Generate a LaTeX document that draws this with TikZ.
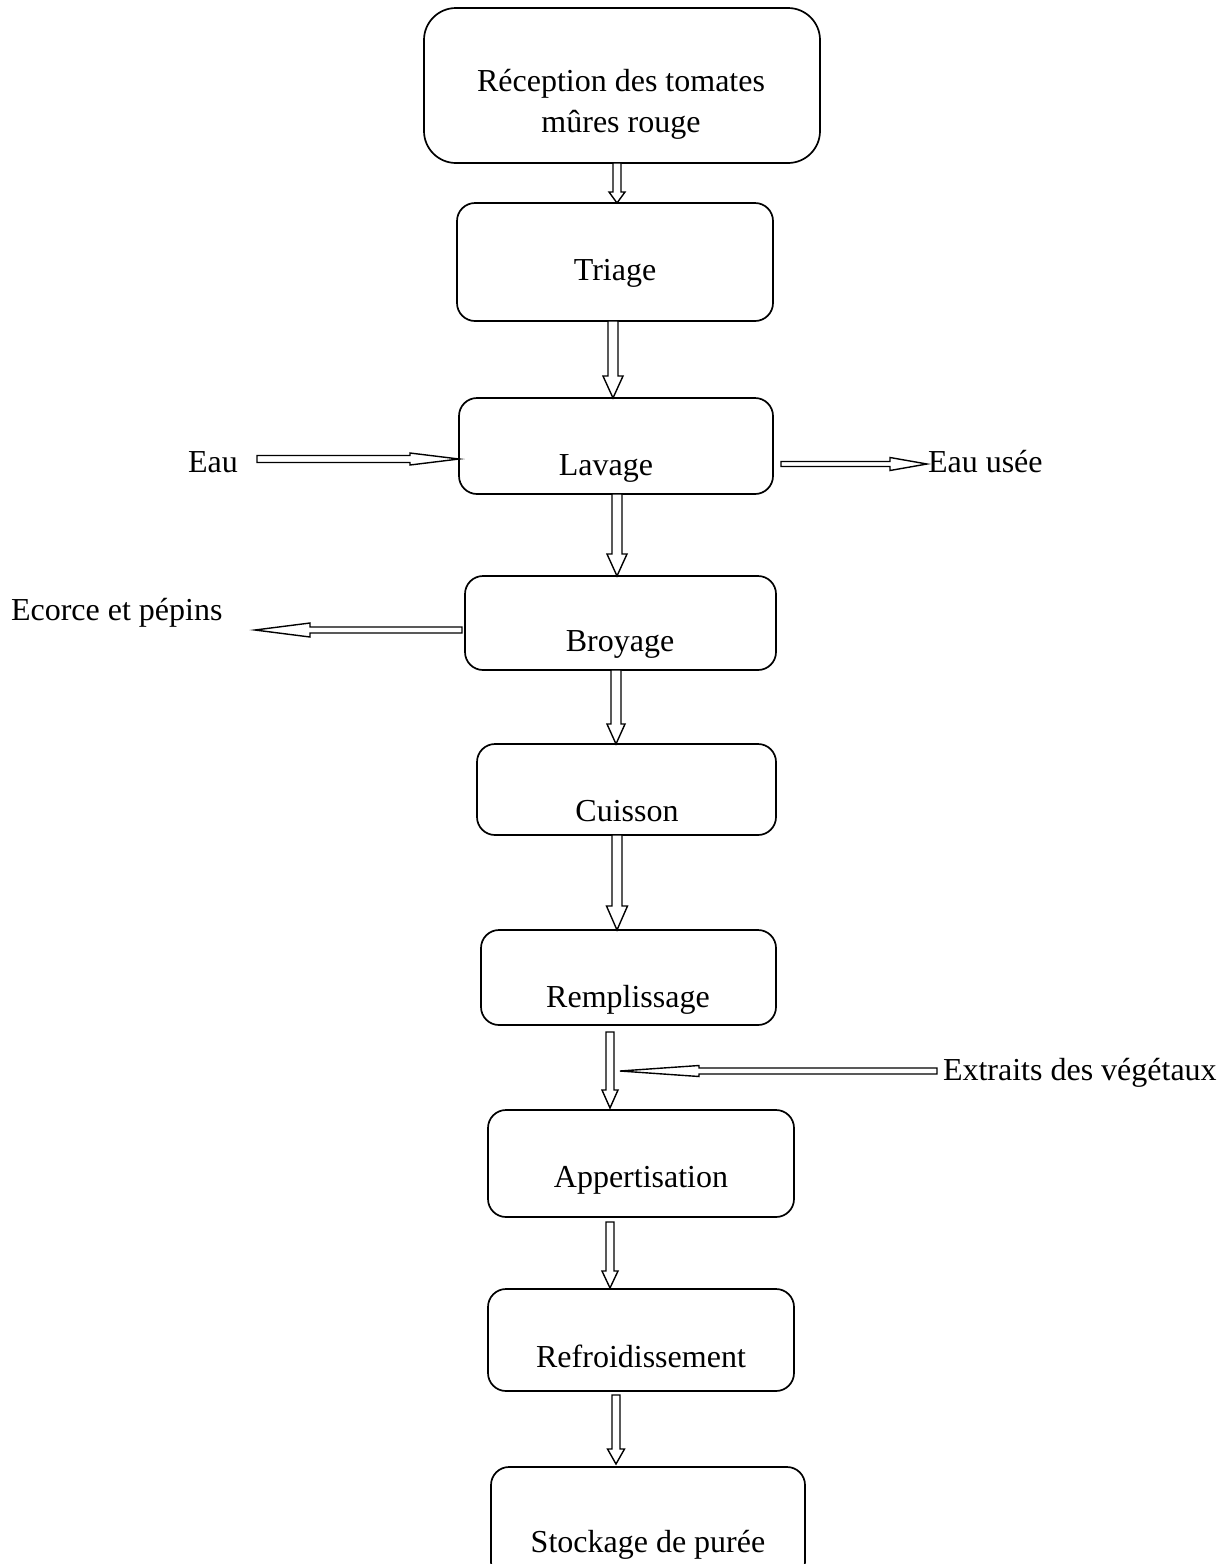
\documentclass[tikz,border=0pt]{standalone}
\usepackage{fontspec}
\setmainfont{Liberation Serif}
\usetikzlibrary{calc}
\tikzset{
  box/.style={draw, line width=1.7pt, rounded corners=18pt, inner sep=0pt, outer sep=0pt, anchor=north west},
  lbl/.style={inner sep=0pt, outer sep=0pt, font=\fontsize{32}{41}\selectfont},
  blk/.style={draw, line width=1.4pt, fill=white, line join=miter},
}
% vertical block arrow pointing down: start, end, shaft half width, head half width, head length
\newcommand\blkdown[5]{\draw[blk] let \p1=#1, \p2=#2 in
  (\x1-#3pt,\y1) -- (\x1+#3pt,\y1) -- (\x1+#3pt,\y2+#5pt) -- (\x1+#4pt,\y2+#5pt) -- (\x1,\y2)
  -- (\x1-#4pt,\y2+#5pt) -- (\x1-#3pt,\y2+#5pt) -- cycle;}
% horizontal block arrow (right or left): start, end, shaft half width, head half width, signed head length
\newcommand\blkh[5]{\draw[blk] let \p1=#1, \p2=#2 in
  (\x1,\y1+#3pt) -- (\x2-#5pt,\y1+#3pt) -- (\x2-#5pt,\y1+#4pt) -- (\x2,\y1) -- (\x2-#5pt,\y1-#4pt)
  -- (\x2-#5pt,\y1-#3pt) -- (\x1,\y1-#3pt) -- cycle;}
\begin{document}
\begin{tikzpicture}[x=1pt,y=-1pt]
\useasboundingbox[fill=white] (0,0) rectangle (1230,1564);

% boxes
\node[box, rounded corners=32pt, minimum width=396pt, minimum height=155pt] (b1) at (424,8) {};
\node[box, minimum width=316pt, minimum height=118pt] (b2) at (457,203) {};
\node[box, minimum width=314pt, minimum height=96pt] (b3) at (459,398) {};
\node[box, minimum width=311pt, minimum height=94pt] (b4) at (465,576) {};
\node[box, minimum width=299pt, minimum height=91pt] (b5) at (477,744) {};
\node[box, minimum width=295pt, minimum height=95pt] (b6) at (481,930) {};
\node[box, minimum width=306pt, minimum height=107pt] (b7) at (488,1110) {};
\node[box, minimum width=306pt, minimum height=102pt] (b8) at (488,1289) {};
\node[box, minimum width=314pt, minimum height=113pt] (b9) at (491,1467) {};

% box texts
\node[lbl, align=center] (t1) at (621,104) {Réception des tomates\\mûres rouge};
\node[lbl, anchor=base] (t2) at (615,280) {Triage};
\node[lbl, anchor=base] (t3) at (606,475) {Lavage};
\node[lbl, anchor=base] (t4) at (620,651) {Broyage};
\node[lbl, anchor=base] (t5) at (627,821) {Cuisson};
\node[lbl, anchor=base] (t6) at (628,1007) {Remplissage};
\node[lbl, anchor=base] (t7) at (641,1187) {Appertisation};
\node[lbl, anchor=base] (t8) at (641,1367) {Refroidissement};
\node[lbl, anchor=base] (t9) at (648,1552) {Stockage de purée};

% side texts
\node[lbl, anchor=base west] (eau) at (188,472) {Eau};
\node[lbl, anchor=base west] (usee) at (928,472) {Eau usée};
\node[lbl, anchor=base west] (ecorce) at (11,620) {Ecorce et pépins};
\node[lbl, anchor=base west] (extr) at (943,1080) {Extraits des végétaux};

% arrow axes
\coordinate (c1) at (617,0);
\coordinate (c2) at (613,0);
\coordinate (c3) at (617,0);
\coordinate (c4) at (616,0);
\coordinate (c5) at (617,0);
\coordinate (c6) at (610,0);
\coordinate (c7) at (610,0);
\coordinate (c8) at (616,0);

% vertical arrows
\blkdown{(c1|-b1.south)}{(c1|-b2.north)}{4}{8}{11}
\blkdown{(c2|-b2.south)}{(c2|-b3.north)}{5}{10}{22}
\blkdown{(c3|-b3.south)}{(c3|-b4.north)}{5}{10}{22}
\blkdown{(c4|-b4.south)}{(c4|-b5.north)}{5}{9}{20}
\blkdown{(c5|-b5.south)}{(c5|-b6.north)}{5}{10.5}{24}
\blkdown{($(c6|-b6.south)+(0,7)$)}{($(c6|-b7.north)+(0,-2)$)}{4}{8}{18}
\blkdown{($(c7|-b7.south)+(0,5)$)}{($(c7|-b8.north)+(0,-1)$)}{4}{8}{17}
\blkdown{($(c8|-b8.south)+(0,4)$)}{($(c8|-b9.north)+(0,-3)$)}{4}{8.5}{15}

% horizontal arrows
\coordinate (eauS) at (257,459);
\coordinate (useeS) at (781,464);
\coordinate (ecoS) at (462,630);
\coordinate (ecoT) at (255,630);
\coordinate (extS) at (937,1071);
\coordinate (extT) at (620,1071);
\blkh{(eauS)}{(b3.west|-eauS)}{3.5}{6}{49}
\blkh{(useeS)}{($(usee.west|-useeS)+(-1,0)$)}{2.5}{6.5}{37}
\blkh{(ecoS)}{(ecoT)}{3}{7}{-55}
\blkh{(extS)}{(extT)}{3}{5.5}{-79}
\end{tikzpicture}
\end{document}
